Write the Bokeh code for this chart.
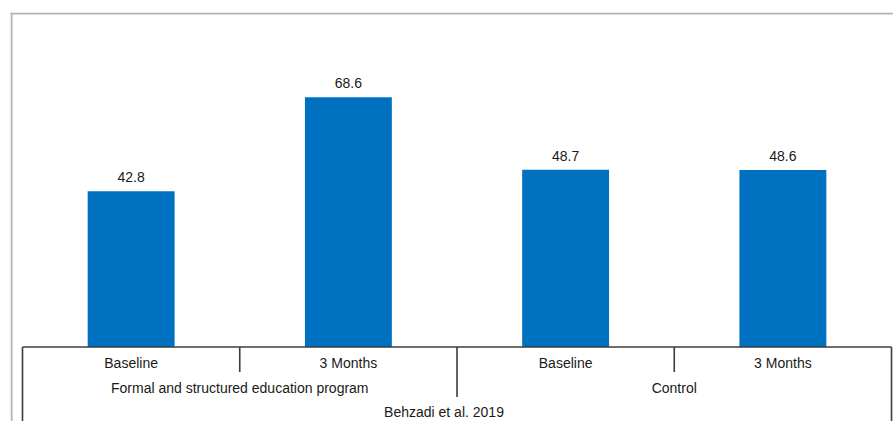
from bokeh.plotting import figure
from bokeh.models import Range1d, ColumnDataSource, Span
from bokeh.core.properties import value
from bokeh.embed import file_html
from bokeh.resources import INLINE

# ---- data ----
times = ["Baseline", "3 Months", "Baseline", "3 Months"]
values = [42.8, 68.6, 48.7, 48.6]
groups = ["Formal and structured education program", "Control"]
study = ["Behzadi et al. 2019"]

# ---- layout constants (pixels) ----
W, H = 893, 421
PX_X = 217.25          # pixels per category
PX_Y = 3.64            # pixels per value unit
FRAME_L, FRAME_R, FRAME_T, FRAME_B = 10, 893, 12, 421   # frame edges in window px
TABLE_L, BASE = 22, 346.5                               # table left edge / zero line in window px

x0 = -(TABLE_L - FRAME_L) / PX_X
x1 = x0 + (FRAME_R - FRAME_L) / PX_X
y1 = (BASE - FRAME_T) / PX_Y
y0 = -(FRAME_B - BASE) / PX_Y

FONT = value("Liberation Sans")
TXT = "#1a1a1a"
BLUE = "#0070C0"
LINE = "#3c3c3c"

p = figure(width=W, height=H, x_range=Range1d(x0, x1), y_range=Range1d(y0, y1),
           x_axis_type=None, y_axis_type=None, toolbar_location=None,
           output_backend="svg", min_border_left=FRAME_L, min_border_right=W - FRAME_R,
           min_border_top=FRAME_T, min_border_bottom=H - FRAME_B)
p.outline_line_color = None
p.background_fill_color = "white"
p.border_fill_color = "white"

n = len(values)
xs = [i + 0.5 for i in range(n)]
src = ColumnDataSource(dict(x=xs, top=values, lab=[f"{v:.1f}" for v in values], t=times))

p.vbar(x="x", top="top", bottom=0, width=0.4, source=src, fill_color=BLUE, line_color=None)
p.text(x="x", y="top", text="lab", source=src, text_align="center", text_baseline="alphabetic",
       y_offset=-14, text_font=FONT, text_font_size="14px", text_color=TXT)

# outer gray frame (top and left)
p.add_layout(Span(location=(BASE - 13) / PX_Y, dimension="width", line_color="#b4b4b4", line_width=2))
p.add_layout(Span(location=(11 - TABLE_L) / PX_X, dimension="height", line_color="#b4b4b4", line_width=2))

# category table
p.segment(x0=[0], y0=[0], x1=[n], y1=[0], line_color=LINE, line_width=1.6)
p.segment(x0=[0, n], y0=[0, 0], x1=[0, n], y1=[y0, y0], line_color=LINE, line_width=1.6)
short = -25 / PX_Y
mid = -50 / PX_Y
sep_x = [1, 3]
p.segment(x0=sep_x, y0=[0] * len(sep_x), x1=sep_x, y1=[short] * len(sep_x), line_color=LINE, line_width=1.6)
p.segment(x0=[2], y0=[0], x1=[2], y1=[mid], line_color=LINE, line_width=1.6)

# row 1: time labels
p.text(x="x", y=0, text="t", source=src, text_align="center", text_baseline="alphabetic",
       y_offset=16, text_font=FONT, text_font_size="14px", text_color=TXT)
# row 2: group labels
gx = [2 * i + 1 for i in range(len(groups))]
p.text(x=gx, y=[0] * len(groups), text=groups, text_align="center", text_baseline="alphabetic",
       y_offset=41, text_font=FONT, text_font_size="14px", text_color=TXT)
# row 3: study label
p.text(x=[n / 2], y=[0], text=study, text_align="center", text_baseline="alphabetic",
       x_offset=-13, y_offset=65, text_font=FONT, text_font_size="14px", text_color=TXT)

open("out.html", "w").write(file_html(p, INLINE))
